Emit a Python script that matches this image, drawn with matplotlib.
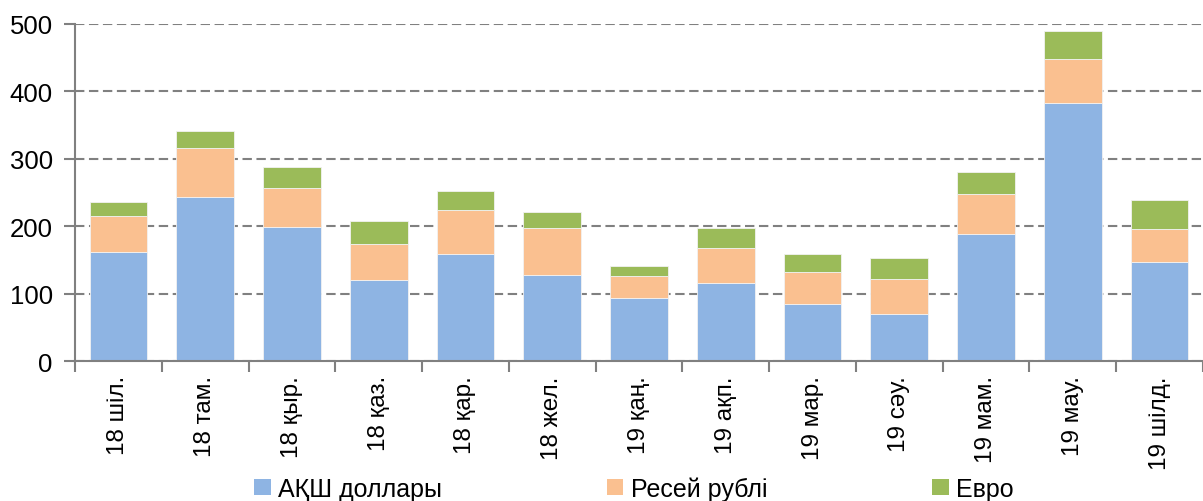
import numpy as np
import matplotlib
matplotlib.use("Agg")
import matplotlib.pyplot as plt
from matplotlib.patches import Patch

plt.rcParams['font.family'] = ['Liberation Sans', 'DejaVu Sans']

# ---------------------------
# DATA
# ---------------------------
months = ["18 шіл.", "18 там.", "18 қыр.", "18 қаз.", "18 қар.", "18 жел.",
          "19 қаң.", "19 ақп.", "19 мар.", "19 сәу.", "19 мам.", "19 мау.",
          "19 шілд."]
usd = [162.5, 244, 199, 120, 159, 128, 94, 115.6, 84.5, 69.7, 189, 383, 146.7]
rub = [52.5, 72, 58, 54, 65.7, 70, 33, 52.4, 47.5, 52, 59, 65.6, 49]
eur = [21, 26, 31.5, 33.5, 27.8, 24, 14.7, 30, 27, 31.4, 32, 41.4, 44]
series_names = ["АҚШ доллары", "Ресей рублі", "Евро"]
y_ticks = [0, 100, 200, 300, 400, 500]

colors = ["#8EB4E3", "#FAC090", "#9BBB59"]
grid_col = "#808080"

fig = plt.figure(figsize=(12.03, 5.02), dpi=100)
ax = fig.add_axes([75 / 1203, 1 - 362.3 / 502, 1 - 75 / 1203, (362.3 - 25) / 502])

x = np.arange(len(months))
bottom = np.zeros(len(months))
for vals, col in zip([usd, rub, eur], colors):
    ax.bar(x, vals, width=0.665, bottom=bottom, color=col,
           edgecolor="#F2F2F2", linewidth=0.6, zorder=3)
    bottom += np.array(vals)

ax.set_ylim(0, 500)
ax.set_xlim(-0.5, 12.39)
ax.set_yticks(y_ticks)
ax.yaxis.grid(True, color=grid_col, linestyle=(0, (4.5, 2.2)), linewidth=1.5, zorder=0)

# ticks at category boundaries, labels at centres
ax.set_xticks(np.arange(-0.5, len(months), 1.0))
ax.set_xticklabels([])
ax.set_xticks(x, minor=True)
ax.set_xticklabels(months, minor=True, rotation=90, fontsize=17.5)
ax.tick_params(axis="x", which="major", length=8, width=1.5, color=grid_col, direction="out")
ax.tick_params(axis="x", which="minor", length=0, pad=10)
ax.tick_params(axis="y", length=8, width=1.5, color=grid_col, labelsize=18.5, pad=8)

for side in ["top", "right"]:
    ax.spines[side].set_visible(False)
for side in ["left", "bottom"]:
    ax.spines[side].set_color(grid_col)
    ax.spines[side].set_linewidth(1.5)
    ax.spines[side].set_zorder(4)

handles = [Patch(facecolor=c, edgecolor="none") for c in colors]
fig.legend(handles, series_names, loc="center", bbox_to_anchor=(0.527, 0.025),
           ncol=3, frameon=False, fontsize=18, handlelength=0.65, handleheight=0.65,
           handletextpad=0.3, columnspacing=6.6, borderaxespad=0)

fig.savefig("out.png", dpi=100)
